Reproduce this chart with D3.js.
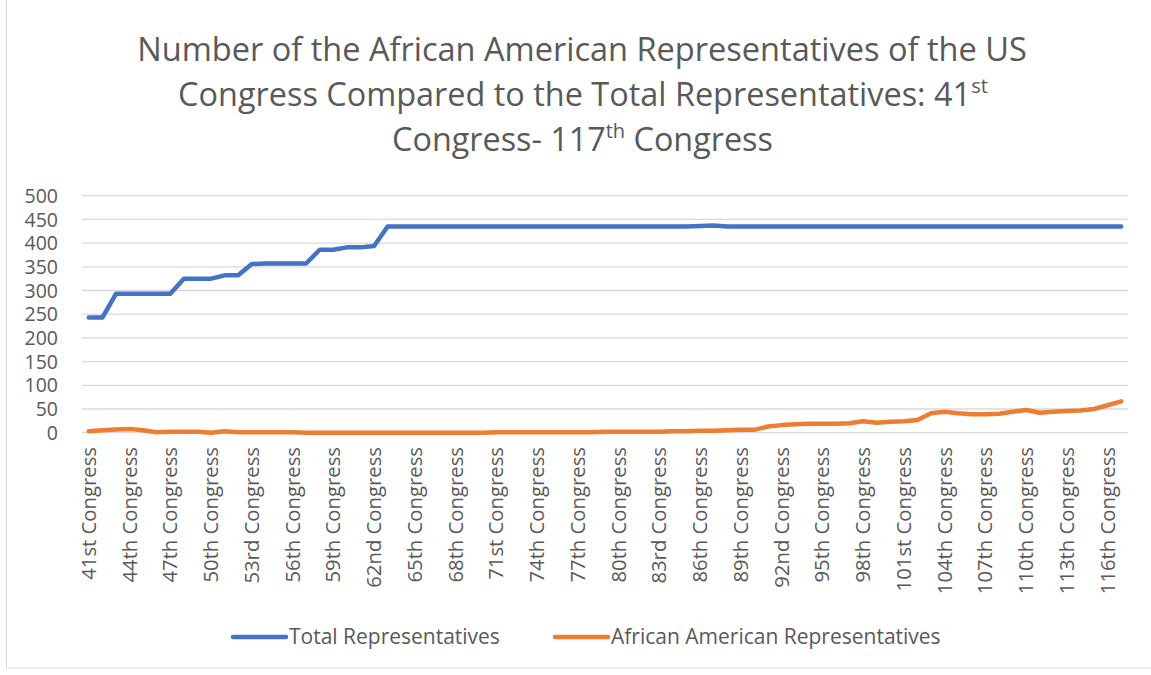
<!DOCTYPE html>
<html>
<head>
<meta charset="utf-8">
<script src="https://cdn.jsdelivr.net/npm/d3@7/dist/d3.min.js"></script>
<style>
  html, body { margin: 0; padding: 0; background: #fff; }
  svg { display: block; }
  text { font-family: "Open Sans", "Noto Sans", sans-serif; fill: #595959; }
</style>
</head>
<body>
<svg id="chart" width="1151" height="675"></svg>
<script>
// ---- data ----
const congressNumbers = d3.range(41, 118);
function ordinal(n) {
  const t = n % 100;
  if (t >= 11 && t <= 13) return n + "th";
  const s = { 1: "st", 2: "nd", 3: "rd" }[n % 10] || "th";
  return n + s;
}
const categories = congressNumbers.map(n => ordinal(n) + " Congress");

const totalRepresentatives = [
  243, 243, 293, 293, 293, 293, 293, 325, 325, 325,
  332, 332, 356, 357, 357, 357, 357, 386, 386, 391,
  391, 394, 435, 435, 435, 435, 435, 435, 435, 435,
  435, 435, 435, 435, 435, 435, 435, 435, 435, 435,
  435, 435, 435, 435, 435, 436, 437, 435, 435, 435,
  435, 435, 435, 435, 435, 435, 435, 435, 435, 435,
  435, 435, 435, 435, 435, 435, 435, 435, 435, 435,
  435, 435, 435, 435, 435, 435, 435
];
const africanAmericanRepresentatives = [
  3, 5, 7, 8, 5, 1, 2, 2, 2, 0,
  3, 1, 1, 1, 1, 1, 0, 0, 0, 0,
  0, 0, 0, 0, 0, 0, 0, 0, 0, 0,
  1, 1, 1, 1, 1, 1, 1, 1, 2, 2,
  2, 2, 2, 3, 3, 4, 4, 5, 6, 6,
  13, 16, 18, 19, 19, 19, 20, 24, 21, 23,
  24, 27, 41, 44, 41, 39, 39, 40, 44, 48,
  42, 44, 46, 47, 50, 58, 66
];
const yTicks = [0, 50, 100, 150, 200, 250, 300, 350, 400, 450, 500];
const seriesNames = ["Total Representatives", "African American Representatives"];
const seriesColors = ["#4472C4", "#ED7D31"];

// ---- layout ----
const svg = d3.select("#chart");
const plot = { left: 82, right: 1128, top: 195.7, bottom: 432.7 };

svg.append("rect")
  .attr("x", 6.5).attr("y", -2).attr("width", 1160).attr("height", 670)
  .attr("fill", "none").attr("stroke", "#d9d9d9").attr("stroke-width", 1);

const x = d3.scaleBand().domain(categories).range([plot.left, plot.right]).paddingInner(0).paddingOuter(0);
const cx = d => x(d) + x.bandwidth() / 2;
const y = d3.scaleLinear().domain([0, 500]).range([plot.bottom, plot.top]);

// gridlines
svg.append("g").selectAll("line").data(yTicks).join("line")
  .attr("x1", plot.left).attr("x2", plot.right)
  .attr("y1", d => y(d)).attr("y2", d => y(d))
  .attr("stroke", "#d9d9d9").attr("stroke-width", 1.3);

// y axis labels
const yAxis = d3.axisLeft(y).tickValues(yTicks).tickSize(0).tickPadding(0);
const yg = svg.append("g").attr("transform", "translate(58,0)").call(yAxis);
yg.select(".domain").remove();
yg.selectAll("text").attr("font-size", 19.5).attr("fill", "#595959")
  .attr("font-family", "'Open Sans', sans-serif").attr("dy", "0.34em").attr("x", 0);

// x axis labels (every 3rd category)
const shownCats = categories.filter((c, i) => i % 3 === 0);
svg.append("g").selectAll("text").data(shownCats).join("text")
  .attr("transform", d => `translate(${cx(d)},447) rotate(-90)`)
  .attr("text-anchor", "end")
  .attr("dy", "0.35em")
  .attr("font-size", 20.3)
  .text(d => d);

// lines
const line = d3.line().x((d, i) => cx(categories[i])).y(d => y(d));
[totalRepresentatives, africanAmericanRepresentatives].forEach((arr, k) => {
  svg.append("path").datum(arr)
    .attr("d", line)
    .attr("fill", "none")
    .attr("stroke", seriesColors[k])
    .attr("stroke-width", 4.5)
    .attr("stroke-linejoin", "round")
    .attr("stroke-linecap", "round");
});

// title
const titleLines = [
  { parts: [["Number of the African American Representatives of the US", false]], y: 61, x0: 137, x1: 1027 },
  { parts: [["Congress Compared to the Total Representatives: 41", false], ["st", true]], y: 106, x0: 178, x1: 988 },
  { parts: [["Congress- 117", false], ["th", true], [" Congress", false]], y: 151, x0: 392, x1: 773 }
];
titleLines.forEach(tl => {
  const t = svg.append("text").attr("x", (tl.x0 + tl.x1) / 2).attr("y", tl.y)
    .attr("text-anchor", "middle").attr("font-size", 30).attr("fill", "#595959");
  tl.parts.forEach(([s, sup]) => {
    const ts = t.append("tspan").text(s);
    if (sup) ts.attr("font-size", "0.62em").attr("baseline-shift", "super");
  });
  const w = t.node().getComputedTextLength();
  const target = tl.x1 - tl.x0;
  t.attr("font-size", 30 * target / w);
});

// legend
const legendItems = [
  { name: seriesNames[0], color: seriesColors[0], x0: 233, x1: 286, tx: 289, tw: 211 },
  { name: seriesNames[1], color: seriesColors[1], x0: 555, x1: 608, tx: 611, tw: 331 }
];
const lg = svg.append("g");
legendItems.forEach(it => {
  lg.append("line").attr("x1", it.x0).attr("x2", it.x1).attr("y1", 637).attr("y2", 637)
    .attr("stroke", it.color).attr("stroke-width", 4.5).attr("stroke-linecap", "round");
  const t = lg.append("text").attr("x", it.tx).attr("y", 637).attr("dy", "0.35em")
    .attr("font-size", 19).text(it.name);
  const w = t.node().getComputedTextLength();
  t.attr("font-size", Math.min(21, 19 * it.tw / w));
});
</script>
</body>
</html>
